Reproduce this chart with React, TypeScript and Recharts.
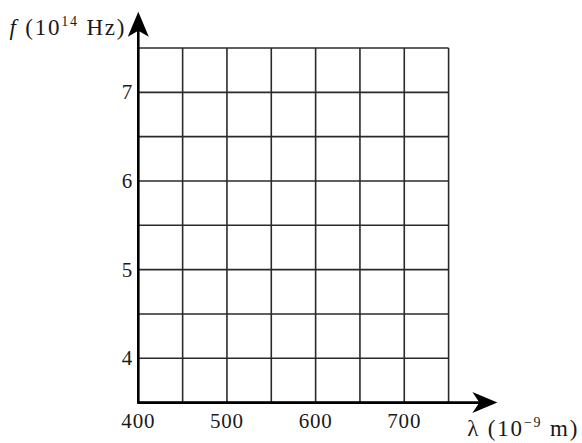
import React from 'react';
import { ComposedChart, XAxis, YAxis, CartesianGrid, ReferenceLine } from 'recharts';

const xGridTicks = [400, 450, 500, 550, 600, 650, 700, 750];
const xLabelTicks = [400, 500, 600, 700];
const yGridTicks = [3.5, 4, 4.5, 5, 5.5, 6, 6.5, 7, 7.5];
const yLabelTicks = [4, 5, 6, 7];
const xDomain: [number, number] = [400, 750];
const yDomain: [number, number] = [3.5, 7.5];
const xArrowEnd = 805;
const yArrowEnd = 7.91;

const FONT = 'Liberation Serif, Times New Roman, serif';
const INK = '#1a1a1a';
const txt = { fontFamily: FONT } as React.CSSProperties;

const XTick = (props: any) => {
  const { x, y, payload } = props;
  if (!xLabelTicks.includes(Number(payload.value))) return <g />;
  return (
    <text x={x} y={y + 25} textAnchor="middle" style={txt} fontSize={21} fill={INK} letterSpacing={0.8}>
      {payload.value}
    </text>
  );
};

const YTick = (props: any) => {
  const { x, y, payload } = props;
  if (!yLabelTicks.includes(Number(payload.value))) return <g />;
  return (
    <text x={x - 6} y={y + 7} textAnchor="end" style={txt} fontSize={21} fill={INK}>
      {payload.value}
    </text>
  );
};

const XArrow = (props: any) => {
  const { x1, y1, x2, y2 } = props;
  return (
    <g>
      <line x1={x1 - 1} y1={y1} x2={x2 - 10} y2={y2} stroke="#000" strokeWidth={2.6} />
      <polygon
        points={`${x2},${y2} ${x2 - 25},${y2 - 10.5} ${x2 - 18},${y2} ${x2 - 25},${y2 + 10.5}`}
        fill="#000"
      />
      <text x={x2 - 30} y={y2 + 33} style={txt} fontSize={23} fill={INK} letterSpacing={1.8}>
        <tspan>λ (10</tspan>
        <tspan dy={-9} fontSize={14}>−9</tspan>
        <tspan dy={9}> m)</tspan>
      </text>
    </g>
  );
};

const YArrow = (props: any) => {
  const { x1, y1, x2, y2 } = props;
  return (
    <g>
      <line x1={x1} y1={y1 + 1} x2={x2} y2={y2 + 10} stroke="#000" strokeWidth={2.6} />
      <polygon
        points={`${x2},${y2} ${x2 - 10.5},${y2 + 25} ${x2},${y2 + 19} ${x2 + 10.5},${y2 + 25}`}
        fill="#000"
      />
      <text x={x2 - 12} y={y2 + 23} textAnchor="end" style={txt} fontSize={23} fill={INK} letterSpacing={1.8}>
        <tspan fontStyle="italic">f</tspan>
        <tspan> (10</tspan>
        <tspan dy={-9} fontSize={14}>14</tspan>
        <tspan dy={9}> Hz)</tspan>
      </text>
    </g>
  );
};

export default function App() {
  return (
    <div style={{ position: 'absolute', left: 0, top: 0, background: '#fff' }}>
      <ComposedChart
        width={582}
        height={443}
        data={[]}
        margin={{ top: 48, right: 133.4, bottom: 39.4, left: 137.3 }}
      >
        <CartesianGrid stroke="#2a2a2a" strokeWidth={1.6} />
        <XAxis
          type="number"
          dataKey="x"
          domain={xDomain}
          ticks={xGridTicks}
          interval={0}
          height={1}
          axisLine={false}
          tickLine={false}
          tickSize={0}
          tickMargin={0}
          tick={(p: any) => <XTick {...p} />}
          allowDataOverflow
        />
        <YAxis
          type="number"
          dataKey="y"
          domain={yDomain}
          ticks={yGridTicks}
          interval={0}
          width={1}
          axisLine={false}
          tickLine={false}
          tickSize={0}
          tickMargin={0}
          tick={(p: any) => <YTick {...p} />}
          allowDataOverflow
        />
        <ReferenceLine
          segment={[{ x: xDomain[0], y: yDomain[0] }, { x: xArrowEnd, y: yDomain[0] }]}
          ifOverflow="visible"
          shape={<XArrow />}
        />
        <ReferenceLine
          segment={[{ x: xDomain[0], y: yDomain[0] }, { x: xDomain[0], y: yArrowEnd }]}
          ifOverflow="visible"
          shape={<YArrow />}
        />
      </ComposedChart>
    </div>
  );
}
